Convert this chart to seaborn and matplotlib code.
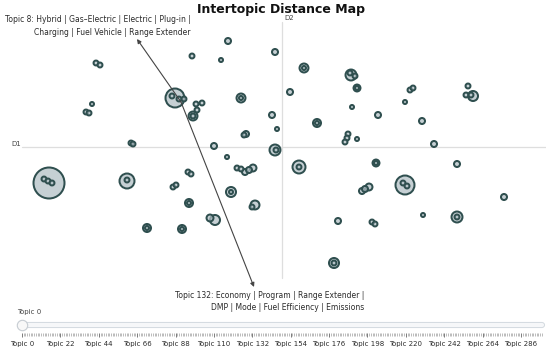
import numpy as np
import pandas as pd
import matplotlib
matplotlib.use("Agg")
import matplotlib.pyplot as plt
import seaborn as sns

# ── Data: 2-D topic embedding (D1, D2) and topic frequency ────────────────────
topic_x = [
    -5.4, -9.0, -6.1, -18.6, -18.2, -0.7, 2.2, 2.2, 6.9, 6.8, 7.3, 7.5, 7.5,
    0.8, 7.0, 9.6, 3.5, 3.5, -0.5, 6.6, 6.5, 6.3, 7.5, 12.8, 13.1, 12.3, 14.0,
    18.6, 18.4, 18.9, 19.1, 15.2, -0.7, -0.6, 1.7, 1.7, 9.4, 9.4, 17.5,
    12.3, 12.1, 12.5, 8.0, 8.3, 8.7, 22.2, 5.6, 9.0, 9.3, 14.1, 17.5, 17.5,
    5.2, 5.2, -10.7, -11.0, -10.3, -9.8, -8.6, -8.0, -8.5, -8.9, -8.9,
    -4.1, -4.1, -19.0, -19.6, -19.3, -1.0, -3.6, -3.8, -15.1, -14.9, -6.8,
    -5.5, -4.5, -4.1, -3.7, -3.3, -2.9, -23.3, -23.8, -23.4, -23.0, -15.5,
    -15.5, -9.4, -9.1, -10.9, -10.6, -5.1, -5.1, -9.3, -9.3, -3.0, -2.7,
    -7.2, -6.7, -13.5, -13.5, -10.0, -10.0,
]
topic_y = [
    10.6, 9.1, 8.7, 8.4, 8.2, 9.5, 7.9, 7.9, 7.2, 7.4, 7.1, 5.9, 5.9,
    5.5, 4.0, 3.2, 2.4, 2.4, 1.8, 1.3, 0.9, 0.5, 0.8, 5.7, 5.9, 4.5, 2.6,
    6.1, 5.2, 5.2, 5.1, 0.3, -0.3, -0.3, -2.0, -2.0, -1.6, -1.6, -1.7,
    -3.8, -3.6, -3.9, -4.4, -4.2, -4.0, -5.0, -7.4, -7.5, -7.7, -6.8, -7.0, -7.0,
    -11.6, -11.6, 4.9, 5.1, 4.8, 4.8, 4.3, 4.4, 3.7, 3.1, 3.1,
    4.9, 4.9, 4.3, 3.5, 3.4, 3.2, 1.3, 1.2, 0.4, 0.3, 0.1,
    -1.0, -2.1, -2.2, -2.5, -2.3, -2.1, -3.6, -3.2, -3.4, -3.6, -3.4,
    -3.3, -2.5, -2.7, -4.0, -3.8, -4.5, -4.5, -5.6, -5.6, -6.0, -5.8,
    -7.1, -7.3, -8.1, -8.1, -8.2, -8.2,
]
topic_freq = [
    9, 6, 4, 6, 6, 9, 20, 4, 30, 6, 6, 12, 4,
    9, 4, 9, 16, 4, 4, 6, 6, 6, 4, 6, 6, 4, 9,
    6, 6, 6, 25, 9, 30, 6, 42, 6, 12, 4, 9,
    90, 6, 6, 9, 9, 12, 9, 9, 6, 6, 4, 30, 6,
    25, 6, 90, 6, 6, 6, 6, 6, 6, 20, 6,
    20, 4, 4, 6, 6, 9, 9, 6, 6, 6, 9,
    4, 6, 6, 9, 9, 12, 240, 6, 6, 6, 56,
    6, 6, 6, 6, 6, 25, 4, 16, 4, 6, 20,
    12, 25, 16, 4, 16, 4,
]

slider_ticks = [0, 22, 44, 66, 88, 110, 132, 154, 176, 198, 220, 242, 264, 286]
slider_labels = [f"Topic {t}" for t in slider_ticks]
n_topics = 299

label_8 = ("Topic 8: Hybrid | Gas\u2013Electric | Electric | Plug-in |\n"
           "Charging | Fuel Vehicle | Range Extender")
label_132 = ("Topic 132: Economy | Program | Range Extender |\n"
             "DMP | Mode | Fuel Efficiency | Emissions")

# ── Style ─────────────────────────────────────────────────────────────────────
sns.set_theme(style="white")
plt.rcParams["font.family"] = ["DejaVu Sans"]

W, H = 550, 352
PT_PER_PX = 72 / 100
EDGE = "#2F4F4F"
FILL = (0.69, 0.745, 0.77, 0.72)
TXT = "#2b2b2b"

fig = plt.figure(figsize=(W / 100, H / 100), dpi=100)
fig.patch.set_facecolor("white")

# ── Main map ──────────────────────────────────────────────────────────────────
ax = fig.add_axes([10 / W, 70 / H, 536 / W, 264 / H])
ax.axis("off")

ax.axhline(0, xmin=12 / 536, xmax=1, color="#dedede", lw=0.9, zorder=0)
ax.axvline(0, ymin=0.015, ymax=0.985, color="#dedede", lw=0.9, zorder=0)

df = pd.DataFrame({"x": topic_x, "y": topic_y, "freq": topic_freq})
df = df.sort_values("freq", ascending=False, kind="stable")
fmin, fmax = df["freq"].min(), df["freq"].max()
sns.scatterplot(
    data=df, x="x", y="y", size="freq",
    sizes=(fmin * (2 * PT_PER_PX) ** 2, fmax * (2 * PT_PER_PX) ** 2),
    size_norm=(fmin, fmax),
    facecolor=FILL, edgecolor=EDGE, linewidth=1.45,
    legend=False, ax=ax, zorder=3,
)
ax.set_xlim(-27.2, 26.4)
ax.set_ylim(-13.5, 12.9)
ax.axis("off")

ax.text(-26.6, 0.3, "D1", fontsize=5, color="#444444", ha="center", va="center")
ax.text(0.2, 12.85, "D2", fontsize=5, color="#444444", ha="left", va="center")

# annotations for two highlighted topics
arrow = dict(arrowstyle="-|>", color="#444444", lw=0.8,
             mutation_scale=6, shrinkA=0, shrinkB=0)
ax.annotate("", xy=(-14.5, 10.8), xytext=(-10.1, 4.5),
            arrowprops=arrow, annotation_clip=False, zorder=5)
ax.annotate("", xy=(-2.8, -14.0), xytext=(-10.1, 4.5),
            arrowprops=arrow, annotation_clip=False, zorder=5)
ax.text(-9.1, 12.1, label_8, ha="right", va="center", ma="right",
        fontsize=5.5, linespacing=1.5, color=TXT)
ax.text(8.2, -15.45, label_132, ha="right", va="center", ma="right",
        fontsize=5.5, linespacing=1.5, color=TXT)

fig.text(281 / W, 1 - 9 / H, "Intertopic Distance Map", fontsize=9,
         fontweight="bold", ha="center", va="center", color="#111111")

# ── Topic slider ──────────────────────────────────────────────────────────────
ax_s = fig.add_axes([10 / W, 19 / H, 536 / W, 27 / H])
ax_s.set_xlim(-6.88, 300.3)
ax_s.set_ylim(0, 27)
for s in ax_s.spines.values():
    s.set_visible(False)
ax_s.set_facecolor("none")

ax_s.plot([0, n_topics - 1], [8, 8], color="#d3d9df", lw=4.4,
          solid_capstyle="round", zorder=1)
ax_s.plot([0, n_topics - 1], [8, 8], color="#f6f7f9", lw=3.0,
          solid_capstyle="round", zorder=2)
ax_s.plot(0, 8, "o", ms=7.5, mfc="#f8f8f8", mec="#c6ccd2", mew=0.8,
          zorder=3, clip_on=False)
ax_s.text(-2.9, 21, slider_labels[0], fontsize=5, color="#444444",
          ha="left", va="center")

ax_s.set_xticks(slider_ticks, slider_labels)
ax_s.set_xticks(np.arange(n_topics), minor=True)
ax_s.set_yticks([])
ax_s.tick_params(axis="x", which="major", bottom=True, length=3, width=0.6,
                 color="#666666", pad=2.5, labelsize=5, labelcolor=TXT)
ax_s.tick_params(axis="x", which="minor", bottom=True, length=2, width=0.4,
                 color="#8a8a8a")

fig.savefig("out.png", dpi=100)
